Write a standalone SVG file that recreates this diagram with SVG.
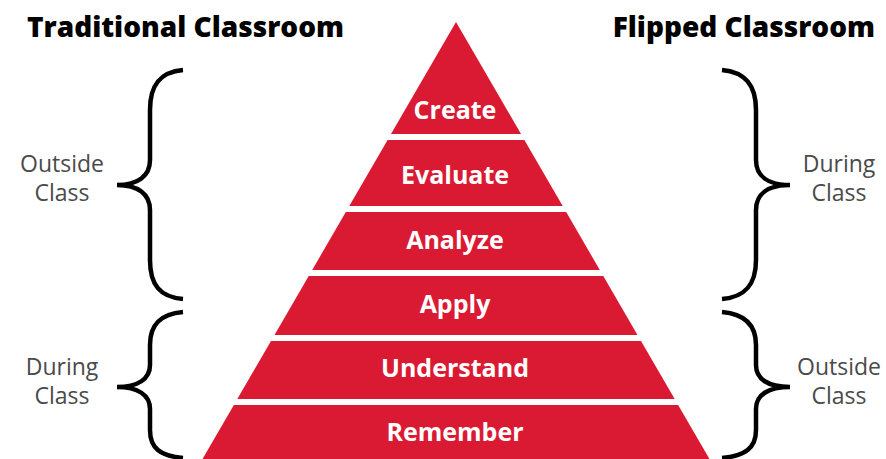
<svg xmlns="http://www.w3.org/2000/svg" width="886" height="459" viewBox="0 0 886 459">
<style>
.band{fill:#DA1A32}
.lbl{font-family:"Open Sans","Liberation Sans",sans-serif;font-weight:700;font-size:25px;fill:#fff;text-anchor:middle}
.title{font-family:"Open Sans","Liberation Sans",sans-serif;font-weight:800;font-size:28px;fill:#000}
.side{font-family:"Open Sans","Liberation Sans",sans-serif;font-weight:400;font-size:23px;fill:#4a4a4a;text-anchor:middle}
.brace{fill:none;stroke:#000;stroke-width:4.5;stroke-linecap:butt}
</style>
<rect width="886" height="459" fill="#fff"/>
<g id="title-traditional"><text class="title" x="27" y="37">Traditional Classroom</text></g>
<g id="title-flipped"><text class="title" x="875" y="37" text-anchor="end">Flipped Classroom</text></g>

<g id="create"><polygon class="band" points="456,22 521,134 391,134"/><text class="lbl" x="455" y="119">Create</text></g>
<g id="evaluate"><polygon class="band" points="387.6,140 524.4,140 562.7,206 349.3,206"/><text class="lbl" x="455" y="184">Evaluate</text></g>
<g id="analyze"><polygon class="band" points="345.8,212 566.2,212 599.8,270 312.2,270"/><text class="lbl" x="455" y="249">Analyze</text></g>
<g id="apply"><polygon class="band" points="308.7,276 603.3,276 637.5,335 274.5,335"/><text class="lbl" x="455" y="313">Apply</text></g>
<g id="understand"><polygon class="band" points="271,341 641,341 674.7,399 237.3,399"/><text class="lbl" x="455" y="377">Understand</text></g>
<g id="remember"><polygon class="band" points="233.9,405 678.1,405 709.5,459 202.5,459"/><text class="lbl" x="455" y="441">Remember</text></g>

<g id="connectors">
<path class="brace" d="M183,70 C160,72 150,85 150,110 L150,160 C150,176 138,185 117,185 C138,185 150,194 150,210 L150,260 C150,285 160,297 183,299"/>
<path class="brace" d="M183,312 C160,314 150,325 150,345 L150,365 C150,379 138,387 117,387 C138,387 150,395 150,409 L150,430 C150,448 160,456 183,458"/>
<path class="brace" d="M722,70 C745,72 756,85 756,110 L756,160 C756,176 768,185 790,185 C768,185 756,194 756,210 L756,260 C756,285 745,297 722,299"/>
<path class="brace" d="M722,312 C745,314 756,325 756,345 L756,365 C756,379 768,387 790,387 C768,387 756,395 756,409 L756,430 C756,448 745,456 722,458"/>
</g>

<g id="left-top-label"><text class="side" x="62" y="172">Outside</text><text class="side" x="62" y="201">Class</text></g>
<g id="left-bottom-label"><text class="side" x="62" y="375">During</text><text class="side" x="62" y="404">Class</text></g>
<g id="right-top-label"><text class="side" x="839" y="172">During</text><text class="side" x="839" y="201">Class</text></g>
<g id="right-bottom-label"><text class="side" x="839" y="375">Outside</text><text class="side" x="839" y="404">Class</text></g>
</svg>
